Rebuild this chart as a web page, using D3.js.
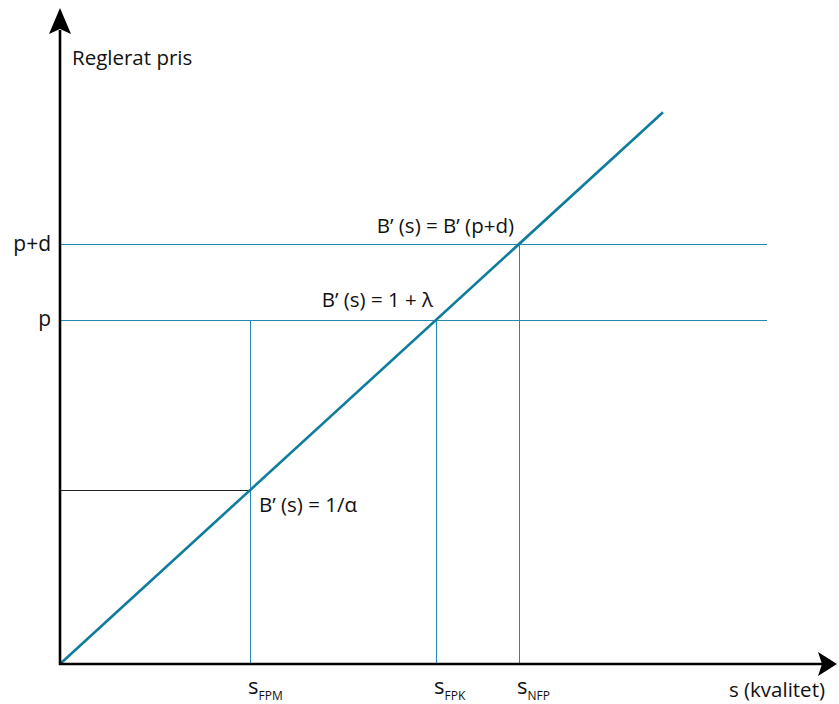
<!DOCTYPE html>
<html>
<head>
<meta charset="utf-8">
<script src="https://cdn.jsdelivr.net/npm/d3@7"></script>
<style>
  html, body { margin: 0; padding: 0; background: #fff; }
  svg { display: block; }
  text { font-family: "Open Sans", "Noto Sans", sans-serif; fill: #111; }
</style>
</head>
<body>
<script>
// Quality levels where the marginal benefit B'(s) meets each price level
const qualityNames = ["FPM", "FPK", "NFP"];
const qualityValues = [1.90, 3.76, 4.59];

// Price levels on the vertical axis (B'(s) = s along the diagonal)
const priceTickLabels = ["p", "p+d"];
const priceTickValues = [3.76, 4.59];
const alphaLevel = 1.90;

// Optimality conditions written next to each intersection
const conditionLabels = ["B\u2019 (s) = 1/\u03B1", "B\u2019 (s) = 1 + \u03BB", "B\u2019 (s) = B\u2019 (p+d)"];

// Marginal benefit curve B'(s)
const curveS = [0, 6.03];
const curveB = [0, 6.03];

const axisTitleY = "Reglerat pris";
const axisTitleX = "s (kvalitet)";
const priceLineEnd = 7.07;

const W = 839, H = 704;
const FS = 20.5;
const x = d3.scaleLinear().domain([0, 7.77]).range([60, 837]);
const y = d3.scaleLinear().domain([0, 7.17]).range([664, 8]);

const svg = d3.select("body").append("svg").attr("width", W).attr("height", H);

const thin = "#2189b0";
const thick = "#0f7c9e";

// Horizontal price lines p and p+d
svg.selectAll("line.price").data(priceTickValues).enter().append("line")
  .attr("x1", x(0)).attr("x2", x(priceLineEnd))
  .attr("y1", d => Math.round(y(d)) + 0.5).attr("y2", d => Math.round(y(d)) + 0.5)
  .attr("stroke", thin).attr("stroke-width", 1);

// Horizontal line at 1/alpha, up to the curve
svg.append("line")
  .attr("x1", x(0)).attr("x2", x(alphaLevel))
  .attr("y1", Math.round(y(alphaLevel)) + 0.5).attr("y2", Math.round(y(alphaLevel)) + 0.5)
  .attr("stroke", "#222").attr("stroke-width", 1);

// Vertical drop lines at each quality level
const dropTops = [priceTickValues[0], priceTickValues[0], priceTickValues[1]];
svg.selectAll("line.drop").data(qualityValues).enter().append("line")
  .attr("x1", d => Math.round(x(d)) + 0.5).attr("x2", d => Math.round(x(d)) + 0.5)
  .attr("y1", (d, i) => y(dropTops[i])).attr("y2", y(0))
  .attr("stroke", thin).attr("stroke-width", 1);

// Marginal benefit curve
svg.append("path")
  .datum(d3.zip(curveS, curveB))
  .attr("d", d3.line().x(d => x(d[0])).y(d => y(d[1])))
  .attr("fill", "none").attr("stroke", thick).attr("stroke-width", 2.6);

// Axes with arrow heads
svg.append("line").attr("x1", x(0)).attr("x2", x(0)).attr("y1", y(0) + 1).attr("y2", 30)
  .attr("stroke", "#000").attr("stroke-width", 2.6);
svg.append("line").attr("x1", x(0) - 1).attr("x2", 822).attr("y1", y(0)).attr("y2", y(0))
  .attr("stroke", "#000").attr("stroke-width", 2.6);
svg.append("path")
  .attr("d", `M${x(0)},8 L${x(0) + 11},34 L${x(0)},29 L${x(0) - 11},34 Z`)
  .attr("fill", "#000");
svg.append("path")
  .attr("d", `M837,${y(0)} L818,${y(0) - 12} L822,${y(0)} L818,${y(0) + 12} Z`)
  .attr("fill", "#000");

// Axis titles
svg.append("text").attr("x", 72).attr("y", 65).attr("font-size", FS).text(axisTitleY);
svg.append("text").attr("x", 825).attr("y", 697).attr("text-anchor", "end")
  .attr("font-size", FS).text(axisTitleX);

// Price tick labels
svg.selectAll("text.ptick").data(priceTickValues).enter().append("text")
  .attr("x", 51).attr("y", d => y(d) + 6.5).attr("text-anchor", "end")
  .attr("font-size", FS + 0.5).text((d, i) => priceTickLabels[i]);

// Quality tick labels with subscripts
const qt = svg.selectAll("text.qtick").data(qualityValues).enter().append("text")
  .attr("x", d => x(d) - 2).attr("y", 694).attr("font-size", 22);
qt.append("tspan").text("s");
qt.append("tspan").attr("font-size", 12).attr("dy", 6).text((d, i) => qualityNames[i]);

// Condition labels at the intersections
svg.append("text").attr("x", x(qualityValues[0]) + 9).attr("y", y(alphaLevel) + 22)
  .attr("font-size", FS).text(conditionLabels[0]);
svg.append("text").attr("x", x(qualityValues[1]) - 3).attr("y", y(priceTickValues[0]) - 13)
  .attr("text-anchor", "end").attr("font-size", FS).text(conditionLabels[1]);
svg.append("text").attr("x", x(qualityValues[2]) - 5).attr("y", y(priceTickValues[1]) - 11)
  .attr("text-anchor", "end").attr("font-size", FS).text(conditionLabels[2]);
</script>
</body>
</html>
